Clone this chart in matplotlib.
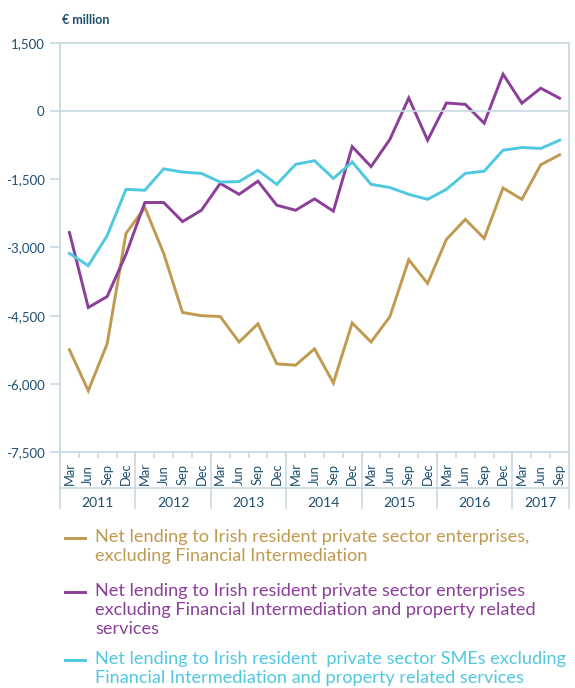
import numpy as np
import matplotlib.pyplot as plt
from matplotlib.lines import Line2D
import matplotlib.transforms as mtransforms

# data (EUR million, quarterly)
months = ['Mar', 'Jun', 'Sep', 'Dec'] * 6 + ['Mar', 'Jun', 'Sep']
years = ['2011', '2012', '2013', '2014', '2015', '2016', '2017']

excl_fi = [-5250, -6150, -5120, -2690, -2120, -3130, -4430, -4500, -4520,
           -5080, -4680, -5560, -5590, -5230, -5980, -4660, -5080, -4520,
           -3270, -3790, -2820, -2380, -2800, -1690, -1940, -1180, -960]
excl_fi_prop = [-2670, -4320, -4080, -3150, -2010, -2010, -2430, -2180,
                -1590, -1830, -1540, -2070, -2180, -1930, -2200, -780,
                -1220, -620, 290, -640, 180, 150, -265, 815, 175, 505, 285]
sme_excl = [-3130, -3400, -2740, -1720, -1740, -1270, -1340, -1370, -1560,
            -1550, -1300, -1610, -1170, -1090, -1480, -1120, -1610, -1680,
            -1830, -1940, -1720, -1370, -1320, -860, -800, -820, -640]

labels = ["Net lending to Irish resident private sector enterprises,\n"
          "excluding Financial Intermediation",
          "Net lending to Irish resident private sector enterprises\n"
          "excluding Financial Intermediation and property related\n"
          "services",
          "Net lending to Irish resident  private sector SMEs excluding\n"
          "Financial Intermediation and property related services"]
colors = ['#c09a4e', '#8b3f98', '#4fc8e0']

txt = '#1d4f6e'
grid = '#c9d9e1'

plt.rcParams['font.family'] = ['Lato', 'DejaVu Sans']

fig = plt.figure(figsize=(5.75, 6.88), dpi=100)
ax = fig.add_axes([60 / 575, 1 - 452 / 688, 509 / 575, 409 / 688])

x = np.arange(len(months))
for s, c in zip([excl_fi, excl_fi_prop, sme_excl], colors):
    ax.plot(x, s, color=c, lw=2.1, solid_joinstyle='miter')

ax.set_xlim(-0.5, len(months) - 0.5)
ax.set_ylim(-7500, 1500)
ax.set_yticks(np.arange(-7500, 1501, 1500))
ax.set_yticklabels(['{:,}'.format(v) for v in range(-7500, 1501, 1500)],
                   color=txt, fontsize=9.5)
ax.axhline(0, color=grid, lw=1.2)
for sp in ax.spines.values():
    sp.set_color(grid)
    sp.set_linewidth(1.3)
ax.tick_params(axis='y', length=7, width=1.2, color=grid, pad=4)

# x axis: months + year groups
ax.set_xticks([])
ax.set_xticks(np.arange(-0.5, len(months), 1), minor=True)
ax.tick_params(axis='x', which='minor', length=4, width=1.2, color=grid)
trans = mtransforms.blended_transform_factory(ax.transData, ax.transAxes)
for i, m in enumerate(months):
    ax.text(i, -0.081, m, transform=trans, rotation=90, ha='center',
            va='bottom', fontsize=9.3, color=txt)
ax.add_line(Line2D([-0.5, len(months) - 0.5], [-0.088, -0.088],
                   transform=trans, color=grid, lw=1.2, clip_on=False))
for k, yr in enumerate(years):
    start = k * 4 - 0.5
    end = min(start + 4, len(months) - 0.5)
    ax.text((start + end) / 2, -0.125, yr, transform=trans, ha='center',
            va='center', fontsize=10, color=txt)
bounds = [k * 4 - 0.5 for k in range(len(years))] + [len(months) - 0.5]
for b in bounds:
    ax.add_line(Line2D([b, b], [0, -0.137], transform=trans, color=grid,
                       lw=1.2, clip_on=False))

fig.text(62 / 575, 1 - 20 / 688, '€ million', fontsize=9, fontweight='bold',
         color=txt, va='center', ha='left')

# legend
ys = [538, 592, 660]
for lab, c, yy in zip(labels, colors, ys):
    fig.add_artist(Line2D([65 / 575, 85 / 575], [1 - yy / 688, 1 - yy / 688],
                          color=c, lw=2.1))
    fig.text(95 / 575, 1 - (yy - 9) / 688, lab, fontsize=13.1, color=c,
             va='top', ha='left', linespacing=1.22)

fig.savefig('out.png', dpi=100)
